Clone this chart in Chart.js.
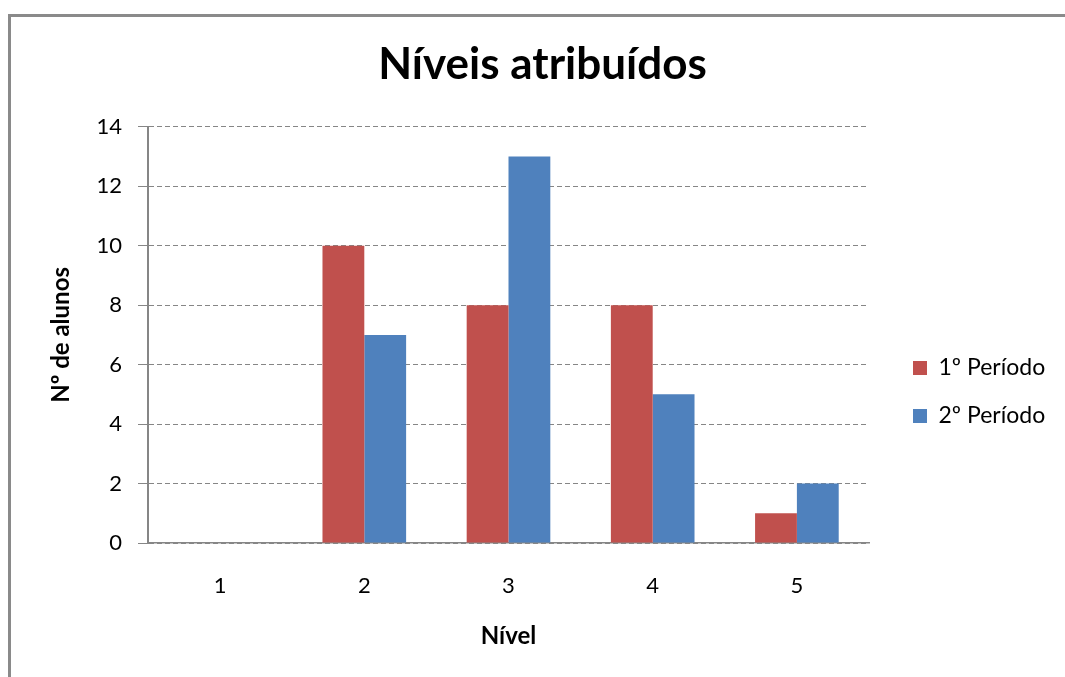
<!DOCTYPE html>
<html lang="pt">
<head>
<meta charset="utf-8">
<title>Níveis atribuídos</title>
<script src="https://cdn.jsdelivr.net/npm/chart.js@4/dist/chart.umd.min.js"></script>
<style>
  html, body { margin: 0; padding: 0; background: #ffffff; overflow: hidden; }
  #wrap { position: relative; width: 1065px; height: 677px; }
  #frame {
    position: absolute; left: 8px; top: 14px; width: 1100px; height: 700px;
    border: 3px solid #8a8a8a; box-sizing: border-box; pointer-events: none;
  }
  canvas { position: absolute; left: 0; top: 0; }
</style>
</head>
<body>
<div id="wrap">
  <canvas id="chart" width="1065" height="677"></canvas>
  <div id="frame"></div>
</div>
<script>
// Níveis atribuídos por período
const categories = ['1', '2', '3', '4', '5'];
const seriesNames = ['1º Período', '2º Período'];
const periodo1 = [0, 10, 8, 8, 1];
const periodo2 = [0, 7, 13, 5, 2];
const yTicks = [0, 2, 4, 6, 8, 10, 12, 14];

const FONT = 'Lato';
const AXIS_GREY = '#868686';

// legend placement: fixed width on the right, items anchored at a given point
const LEGEND_W = 196;
const LEGEND_ITEM_X = 913;
const LEGEND_ITEM_Y = 368;
const LEGEND_FONT = 23;
const LEGEND_PAD = 25;
const LEGEND_BOX = 14;

const legendPlace = {
  id: 'legendPlace',
  beforeLayout(chart) {
    const lg = chart.legend;
    if (lg && !lg.__fixedWidth) {
      const fit = lg.fit.bind(lg);
      lg.fit = function () { fit(); this.width = LEGEND_W; };
      lg.__fixedWidth = true;
    }
  },
  afterLayout(chart) {
    const lg = chart.legend;
    if (!lg) return;
    const dx = LEGEND_ITEM_X - (lg.left + LEGEND_PAD);
    lg.left += dx; lg.right += dx;
    const itemH = Math.max(LEGEND_FONT, LEGEND_BOX);
    const newTop = LEGEND_ITEM_Y - LEGEND_PAD - itemH / 2;
    const dy = newTop - lg.top;
    lg.top += dy; lg.bottom += dy;
  }
};

new Chart(document.getElementById('chart'), {
  type: 'bar',
  data: {
    labels: categories,
    datasets: [
      { label: seriesNames[0], data: periodo1, backgroundColor: '#C0504D', borderWidth: 0 },
      { label: seriesNames[1], data: periodo2, backgroundColor: '#4F81BD', borderWidth: 0 }
    ]
  },
  options: {
    responsive: false,
    animation: false,
    devicePixelRatio: 1,
    layout: { padding: { left: 20, right: 0, top: 0, bottom: 0 } },
    datasets: { bar: { categoryPercentage: 0.58, barPercentage: 1.0 } },
    scales: {
      x: {
        grid: { display: false, drawTicks: false },
        border: { display: true, color: AXIS_GREY, width: 1.5 },
        ticks: { color: '#000', font: { family: FONT, size: 22 }, padding: 30 },
        title: {
          display: true, text: 'Nível', color: '#000',
          font: { family: FONT, size: 24, weight: 'bold' }, padding: 26
        },
        afterFit(scale) { scale.height = 134; }
      },
      y: {
        min: 0, max: 14,
        afterBuildTicks(scale) { scale.ticks = yTicks.map(v => ({ value: v })); },
        grid: {
          color: AXIS_GREY, lineWidth: 1, drawTicks: true, tickLength: 10,
          tickColor: AXIS_GREY, tickWidth: 1, tickBorderDash: []
        },
        border: { display: true, color: AXIS_GREY, width: 2, dash: [5, 3] },
        ticks: { color: '#000', font: { family: FONT, size: 22 }, padding: 16 },
        title: {
          display: true, text: 'Nº de alunos', color: '#000',
          font: { family: FONT, size: 24, weight: 'bold' }, padding: 27
        },
        afterFit(scale) { scale.width = 128; }
      }
    },
    plugins: {
      title: {
        display: true, text: 'Níveis atribuídos', color: '#000',
        font: { family: FONT, size: 44, weight: 'bold' },
        padding: { top: 38, bottom: 36 }
      },
      legend: {
        display: true, position: 'right', align: 'start',
        labels: {
          color: '#000', font: { family: FONT, size: LEGEND_FONT },
          boxWidth: LEGEND_BOX, boxHeight: LEGEND_BOX, padding: LEGEND_PAD
        }
      },
      tooltip: { enabled: false }
    }
  },
  plugins: [legendPlace]
});
</script>
</body>
</html>
